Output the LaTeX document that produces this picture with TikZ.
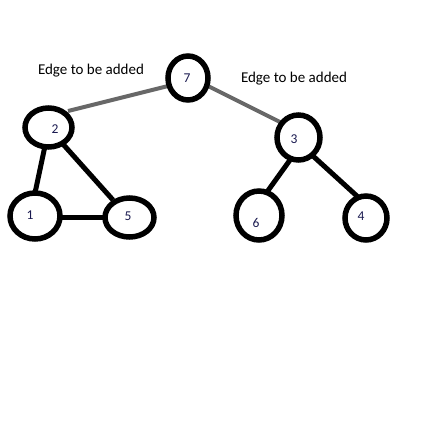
\documentclass[tikz,border=0pt]{standalone}
\usepackage{fontspec}
\setmainfont{Carlito}
\definecolor{digit}{HTML}{1A1A50}
\definecolor{addedge}{HTML}{686868}
\begin{document}
\begin{tikzpicture}[x=1pt,y=-1pt,
  vring/.style={draw=black,line width=5.5pt},
  dlabel/.style={font=\fontsize{13.5}{15}\selectfont,text=digit,inner sep=0pt},
  treeedge/.style={line width=5pt,black},
  newedge/.style={line width=4pt,addedge},
  note/.style={font=\fontsize{15}{17}\selectfont,text=black,inner sep=0pt}]
\useasboundingbox (0,0) rectangle (426,426);
\fill[white] (0,0) rectangle (426,426);
% connectors (drawn under the rings)
\coordinate (e7a) at (168,86);
\coordinate (e2a) at (68,111);
\coordinate (e7b) at (208,86);
\coordinate (e3a) at (282,123);
\coordinate (e2b) at (45,146);
\coordinate (e1a) at (35,193);
\coordinate (e2c) at (62,143);
\coordinate (e5a) at (113,200);
\coordinate (e1b) at (60,217);
\coordinate (e5b) at (105,217);
\coordinate (e3b) at (290,160);
\coordinate (e6a) at (267,192);
\coordinate (e3c) at (313,156);
\coordinate (e4a) at (358,197);
\draw[newedge] (e7a) -- (e2a);
\draw[newedge] (e7b) -- (e3a);
\draw[treeedge] (e2b) -- (e1a);
\draw[treeedge] (e2c) -- (e5a);
\draw[treeedge] (e1b) -- (e5b);
\draw[treeedge] (e3b) -- (e6a);
\draw[treeedge] (e3c) -- (e4a);
% vertex rings
\draw[vring] (188,78) ellipse [x radius=20, y radius=22];
\draw[vring] (48.5,127.5) ellipse [x radius=23.5, y radius=19.5];
\draw[vring] (35,216) ellipse [x radius=25, y radius=23];
\draw[vring] (129.5,217.5) ellipse [x radius=24.5, y radius=19.5];
\draw[vring] (298.5,137.5) ellipse [x radius=21.5, y radius=22.5];
\draw[vring] (259,215.5) ellipse [x radius=23, y radius=24.5];
\draw[vring] (366,218) ellipse [x radius=21, y radius=22];
% vertex labels
\node[dlabel] (n7) at (187,78) {7};
\node[dlabel] (n2) at (55,129) {2};
\node[dlabel] (n1) at (30,215) {1};
\node[dlabel] (n5) at (128,216) {5};
\node[dlabel] (n3) at (294,139) {3};
\node[dlabel] (n6) at (256,223) {6};
\node[dlabel] (n4) at (361,216) {4};
% notes
\node[note] (t1) at (91,71) {Edge to be added};
\node[note] (t2) at (294,79) {Edge to be added};
\end{tikzpicture}
\end{document}
